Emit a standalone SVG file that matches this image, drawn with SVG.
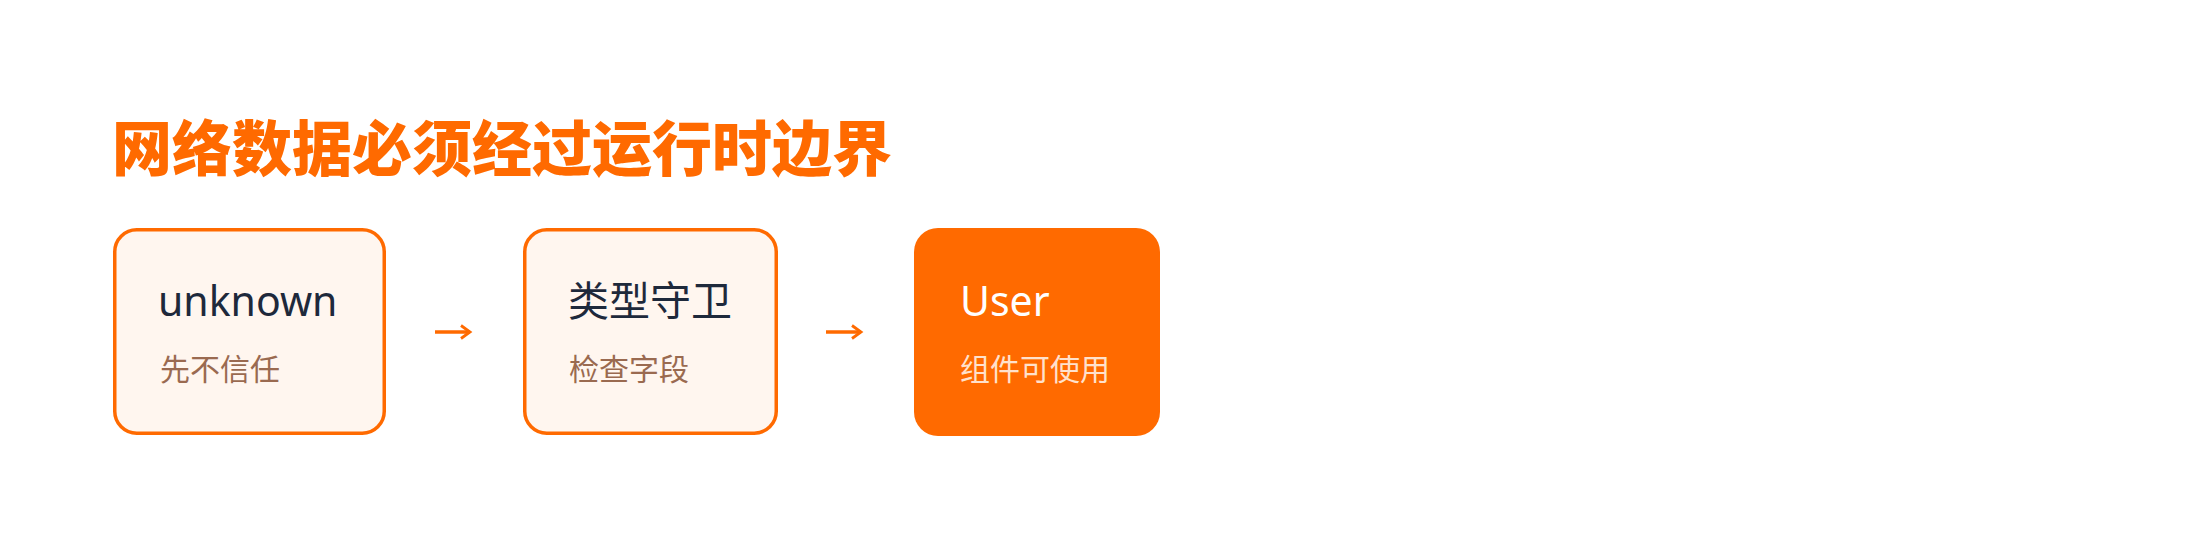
<svg xmlns="http://www.w3.org/2000/svg" width="2200" height="548" viewBox="0 0 2200 548">
<style>
.title{font-family:"Noto Sans CJK SC","Noto Sans",sans-serif;font-weight:900;font-size:60px;fill:#FF6A00}
.box{fill:#FFF6EF;stroke:#FF6A00;stroke-width:3.5}
.boxOn{fill:#FF6A00}
.h{font-family:"Noto Sans","Noto Sans CJK SC",sans-serif;font-size:41px;fill:#1E293B}
.s{font-family:"Noto Sans CJK SC",sans-serif;font-size:30px;fill:#9A6A50}
.hOn{fill:#FFFFFF}
.sOn{fill:#FFE1CC}
.conn{stroke:#FF6A00;stroke-width:3.5;fill:none}
</style>
<defs>
<marker id="arr" markerWidth="14" markerHeight="18" refX="11" refY="9" orient="auto" markerUnits="userSpaceOnUse">
<path d="M2,2.5 L11,9 L2,15.5" fill="none" stroke="#FF6A00" stroke-width="2.8" stroke-linejoin="miter"/>
</marker>
</defs>
<rect width="2200" height="548" fill="#FFFFFF"/>
<text class="title" x="112" y="171">网络数据必须经过运行时边界</text>
<g id="node-unknown">
<rect class="box" x="114.75" y="229.75" width="269.5" height="203.5" rx="22"/>
<text class="h" x="158" y="316">unknown</text>
<text class="s" x="160" y="380">先不信任</text>
</g>
<g id="node-guard">
<rect class="box" x="524.75" y="229.75" width="251.5" height="203.5" rx="22"/>
<text class="h" x="568" y="316">类型守卫</text>
<text class="s" x="569" y="380">检查字段</text>
</g>
<g id="node-user">
<rect class="boxOn" x="914" y="228" width="246" height="208" rx="24"/>
<text class="h hOn" x="960" y="316">User</text>
<text class="s sOn" x="960" y="380">组件可使用</text>
</g>
<g id="connectors">
<line class="conn" x1="435" y1="332" x2="470" y2="332" marker-end="url(#arr)"/>
<line class="conn" x1="826" y1="332" x2="861" y2="332" marker-end="url(#arr)"/>
</g>
</svg>
